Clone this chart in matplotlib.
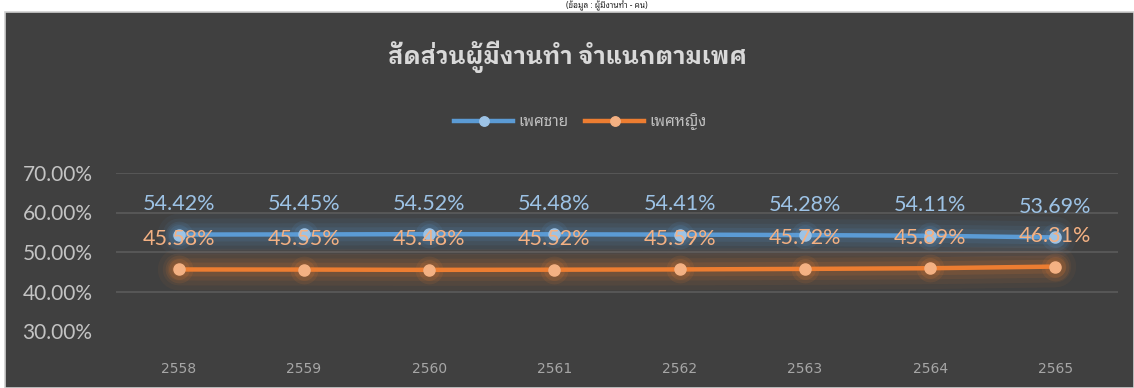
import matplotlib
matplotlib.use("Agg")
import matplotlib.pyplot as plt
from matplotlib.patches import Rectangle
from matplotlib.ticker import FuncFormatter

# ปี พ.ศ. และสัดส่วนผู้มีงานทำ (%)
years = ["2558", "2559", "2560", "2561", "2562", "2563", "2564", "2565"]
male = [54.42, 54.45, 54.52, 54.48, 54.41, 54.28, 54.11, 53.69]
female = [45.58, 45.55, 45.48, 45.52, 45.59, 45.72, 45.89, 46.31]
series_names = ["เพศชาย", "เพศหญิง"]
title = "สัดส่วนผู้มีงานทำ จำแนกตามเพศ"

thai = ["Noto Sans Thai Looped", "DejaVu Sans"]
thai_bold = ["IBM Plex Sans Thai Looped", "DejaVu Sans"]
num_font = "Lato"
bg = "#404040"

blue, blue_lt = "#5b9bd5", "#9dc3e6"
orange, orange_lt = "#ed7d31", "#f4b183"

fig = plt.figure(figsize=(11.34, 3.88), dpi=100)
fig.patch.set_facecolor("white")

# small caption in the white strip above the panel
fig.text(0.535, 1 - 8.5 / 388, "(ข้อมูล : ผู้มีงานทำ - คน)", ha="center", va="baseline",
         family=thai, fontsize=6, weight="bold", color="#222222")

panel = Rectangle((5 / 1134, 0), 1 - 5 / 1134, 1 - 12 / 388, transform=fig.transFigure,
                  facecolor=bg, edgecolor="#d0d0d0", linewidth=1.2, zorder=1)
fig.patches.append(panel)

ax = fig.add_axes([116 / 1134, 1 - 331 / 388, 1002 / 1134, 158 / 388])
ax.set_facecolor("none")
ax.set_zorder(2)

x = list(range(len(years)))

def glow_line(vals, color, light, name):
    y = [v / 100 for v in vals]
    for w, a in [(30, 0.05), (23, 0.07), (16, 0.09), (10, 0.12)]:
        ax.plot(x, y, color=color, lw=w, alpha=a, solid_capstyle="round", zorder=2)
    # soft halo around each marker
    for s, a in [(20, 0.10), (15, 0.14)]:
        ax.plot(x, y, ls="none", marker="o", markersize=s, color=color, alpha=a,
                markeredgewidth=0, zorder=2)
    ax.plot(x, y, color=color, lw=3.2, zorder=3,
            marker="o", markersize=8, markerfacecolor=light,
            markeredgecolor=light, label=name)
    for xi, v in zip(x, vals):
        ax.annotate(f"{v:.2f}%", (xi, v / 100), xytext=(0, 22), textcoords="offset points",
                    ha="center", va="center", fontsize=15.5, family=num_font,
                    color=light, zorder=4)

glow_line(male, blue, blue_lt, series_names[0])
glow_line(female, orange, orange_lt, series_names[1])

ax.set_xlim(-0.5, len(years) - 0.5)
ax.set_ylim(0.30, 0.70)
ax.set_yticks([0.30, 0.40, 0.50, 0.60, 0.70])
ax.yaxis.set_major_formatter(FuncFormatter(lambda v, p: f"{v * 100:.2f}%"))
ax.set_xticks(x)
ax.set_xticklabels(years)
for s in ax.spines.values():
    s.set_visible(False)
ax.tick_params(axis="both", length=0)
ax.tick_params(axis="y", pad=17, labelsize=15, labelcolor="#c3c3c3")
ax.tick_params(axis="x", pad=22, labelsize=10, labelcolor="#a6a6a6")
for lab in ax.get_yticklabels():
    lab.set_family(num_font)
for g in [0.40, 0.50, 0.60, 0.70]:
    ax.axhline(g, color="#595959", lw=1.3, zorder=1)

fig.text(567 / 1134, 1 - 57 / 388, title, ha="center", va="center", family=thai_bold,
         fontsize=17, weight="bold", color="#d9d9d9")

leg = ax.legend(loc="center", bbox_to_anchor=(580 / 1134, 1 - 122 / 388), bbox_transform=fig.transFigure,
                ncol=2, frameon=False, prop={"family": thai, "size": 11},
                handlelength=3.9, handletextpad=0.3, columnspacing=1.1, labelcolor="#bfbfbf",
                markerscale=0.85)

fig.savefig("out.png", dpi=100)
